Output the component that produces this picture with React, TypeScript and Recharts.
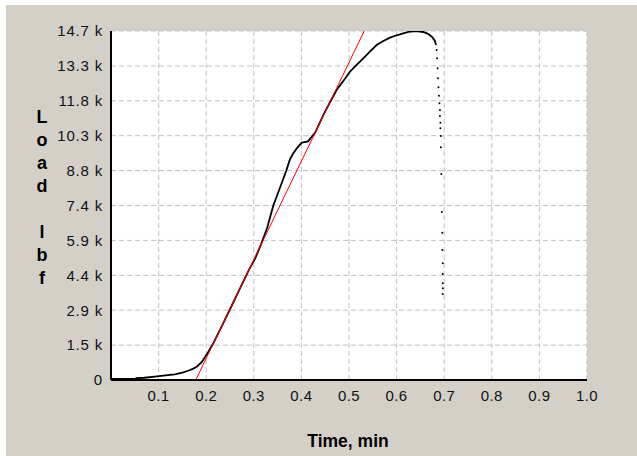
import React from 'react';
import { ComposedChart, Line, Scatter, XAxis, YAxis, CartesianGrid } from 'recharts';

const curve = [
  { x: 0, y: 45 }, { x: 0.052, y: 45 }, { x: 0.053, y: 75 }, { x: 0.07, y: 95 }, { x: 0.092, y: 140 },
  { x: 0.11, y: 180 }, { x: 0.134, y: 240 }, { x: 0.15, y: 310 }, { x: 0.162, y: 390 }, { x: 0.172, y: 470 },
  { x: 0.18, y: 560 }, { x: 0.19, y: 740 }, { x: 0.197, y: 950 }, { x: 0.205, y: 1200 }, { x: 0.215, y: 1550 },
  { x: 0.23, y: 2150 }, { x: 0.25, y: 2980 }, { x: 0.27, y: 3820 }, { x: 0.29, y: 4650 }, { x: 0.3025, y: 5100 },
  { x: 0.315, y: 5700 }, { x: 0.328, y: 6400 }, { x: 0.341, y: 7350 }, { x: 0.355, y: 8100 }, { x: 0.368, y: 8800 },
  { x: 0.376, y: 9300 }, { x: 0.383, y: 9550 }, { x: 0.392, y: 9800 }, { x: 0.401, y: 10000 }, { x: 0.414, y: 10050 },
  { x: 0.422, y: 10250 }, { x: 0.429, y: 10420 }, { x: 0.446, y: 11160 }, { x: 0.46, y: 11700 }, { x: 0.474, y: 12215 },
  { x: 0.49, y: 12650 }, { x: 0.502, y: 12985 }, { x: 0.515, y: 13250 }, { x: 0.53, y: 13548 }, { x: 0.545, y: 13850 },
  { x: 0.558, y: 14110 }, { x: 0.572, y: 14280 }, { x: 0.586, y: 14418 }, { x: 0.6, y: 14520 }, { x: 0.614, y: 14600 },
  { x: 0.625, y: 14660 }, { x: 0.635, y: 14690 }, { x: 0.645, y: 14690 }, { x: 0.656, y: 14658 }, { x: 0.666, y: 14580 },
  { x: 0.674, y: 14460 }, { x: 0.68, y: 14300 }, { x: 0.683, y: 14110 },
];

const drops = [
  { x: 0.684, y: 13900 }, { x: 0.685, y: 13548 }, { x: 0.686, y: 13127 }, { x: 0.687, y: 12706 },
  { x: 0.688, y: 12326 }, { x: 0.689, y: 11975 }, { x: 0.69, y: 11652 }, { x: 0.691, y: 11370 },
  { x: 0.691, y: 11118 }, { x: 0.692, y: 10838 }, { x: 0.692, y: 10600 }, { x: 0.693, y: 10277 },
  { x: 0.693, y: 9800 }, { x: 0.694, y: 8676 }, { x: 0.695, y: 7076 }, { x: 0.696, y: 6205 },
  { x: 0.696, y: 5476 }, { x: 0.697, y: 4915 }, { x: 0.697, y: 4465 }, { x: 0.697, y: 4073 },
  { x: 0.697, y: 3862 }, { x: 0.697, y: 3622 },
];

const fitLine = [{ x: 0.178, y: 0 }, { x: 0.532, y: 14700 }];

const xTicks = [0.1, 0.2, 0.3, 0.4, 0.5, 0.6, 0.7, 0.8, 0.9, 1.0];
const xTickLabels = ['0.1', '0.2', '0.3', '0.4', '0.5', '0.6', '0.7', '0.8', '0.9', '1.0'];
const yTicks = [0, 1470, 2940, 4410, 5880, 7350, 8820, 10290, 11760, 13230, 14700];
const yTickLabels = ['0', '1.5 k', '2.9 k', '4.4 k', '5.9 k', '7.4 k', '8.8 k', '10.3 k', '11.8 k', '13.3 k', '14.7 k'];
const yTitleLetters = ['L', 'o', 'a', 'd', '', 'l', 'b', 'f'];
const xTitle = 'Time, min';

const font = '"Liberation Sans", Arial, sans-serif';

const Dot = (props: any) => <circle cx={props.cx} cy={props.cy} r={1} fill="#000" />;

export default function App() {
  return (
    <div style={{ position: 'absolute', left: 0, top: 0, width: 637, height: 456, background: '#fff' }}>
      <div style={{ position: 'absolute', left: 6, top: 5, width: 631, height: 451, background: '#d4d0c8' }}>
        <ComposedChart width={631} height={451} margin={{ top: 26, right: 50, bottom: 46, left: 0 }}>
          <CartesianGrid fill="#fff" stroke="#c0c0c0" strokeDasharray="5 3" strokeWidth={1} />
          <XAxis
            type="number"
            dataKey="x"
            domain={[0, 1]}
            ticks={xTicks}
            tickFormatter={(v: number) => xTickLabels[xTicks.indexOf(v)] ?? ''}
            allowDataOverflow
            height={30}
            tickSize={0}
            tickMargin={10}
            axisLine={{ stroke: '#000', strokeWidth: 2 }}
            tick={{ fontSize: 15, fill: '#111', fontFamily: font, letterSpacing: 0.4 }}
          />
          <YAxis
            type="number"
            dataKey="y"
            domain={[0, 14700]}
            ticks={yTicks}
            tickFormatter={(v: number) => yTickLabels[yTicks.indexOf(v)] ?? ''}
            allowDataOverflow
            width={105}
            tickSize={0}
            tickMargin={8}
            axisLine={{ stroke: '#000', strokeWidth: 2 }}
            tick={{ fontSize: 15, fill: '#111', fontFamily: font, letterSpacing: 0.8 }}
          />
          <Line data={curve} dataKey="y" type="linear" stroke="#000" strokeWidth={1.8} dot={false} isAnimationActive={false} />
          <Line data={fitLine} dataKey="y" type="linear" stroke="#ff0000" strokeWidth={1} dot={false} isAnimationActive={false} />
          <Scatter data={drops} dataKey="y" shape={Dot} isAnimationActive={false} />
        </ComposedChart>
        <div style={{ position: 'absolute', left: 0, top: 0, width: 631, height: 451, pointerEvents: 'none' }}>
          {yTitleLetters.map((ch, i) => (
            <div
              key={i}
              style={{
                position: 'absolute', left: 26, width: 20, top: 101 + i * 23, height: 23, lineHeight: '23px',
                textAlign: 'center', fontFamily: font, fontWeight: 'bold', fontSize: 18, color: '#000',
              }}
            >
              {ch}
            </div>
          ))}
          <div
            style={{
              position: 'absolute', left: 242, width: 200, top: 426, textAlign: 'center', fontFamily: font,
              fontWeight: 'bold', fontSize: 17.5, color: '#000',
            }}
          >
            {xTitle}
          </div>
        </div>
      </div>
    </div>
  );
}
